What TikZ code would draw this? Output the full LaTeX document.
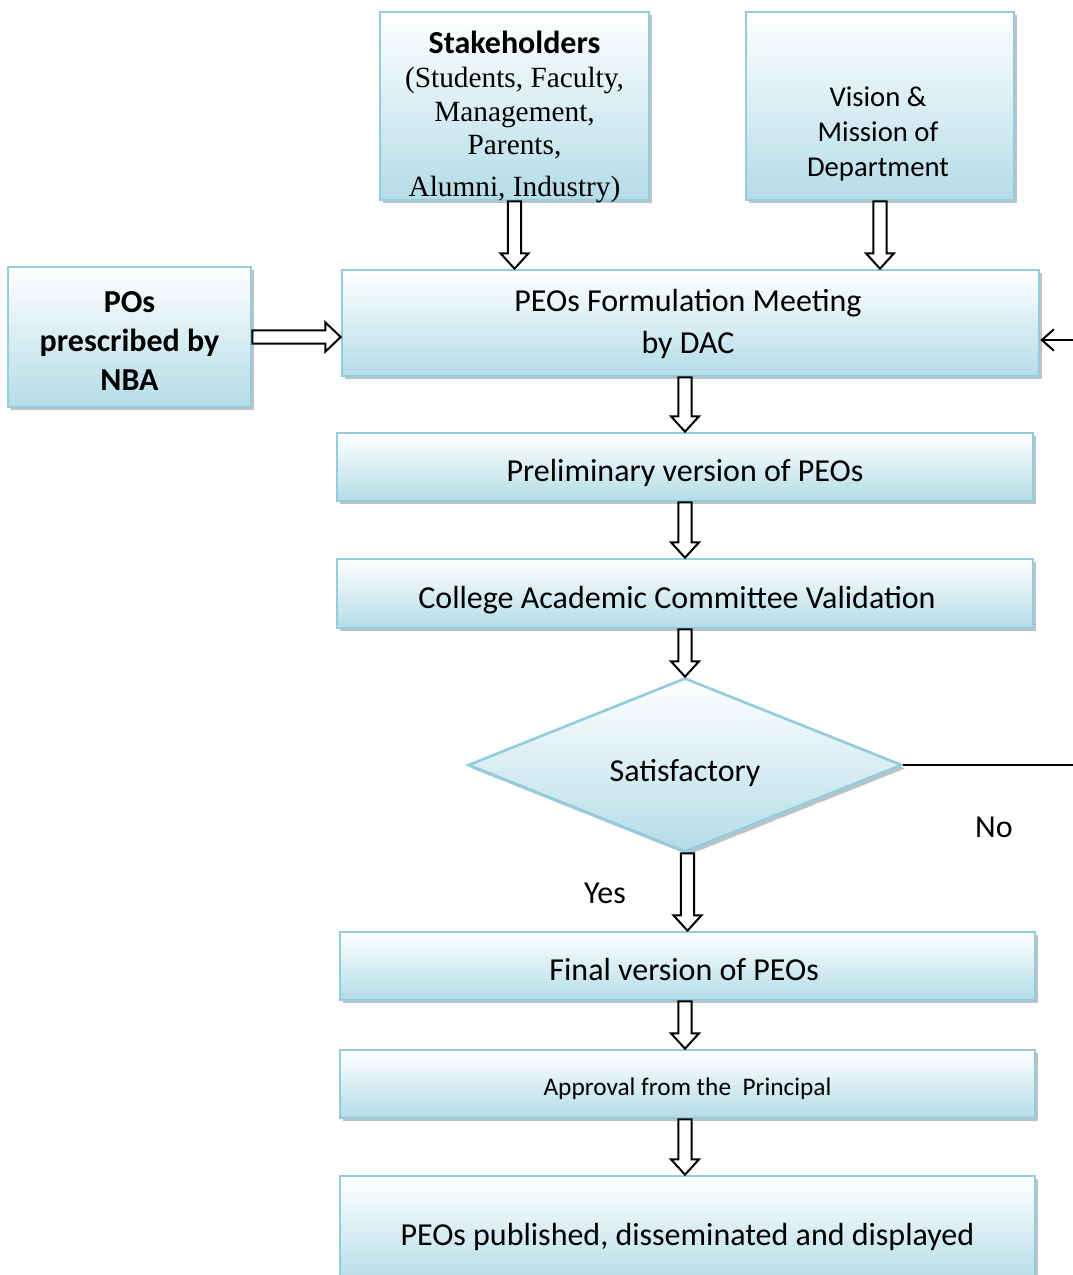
\documentclass[tikz,border=0pt]{standalone}
\usepackage{fontspec}
\setmainfont{Carlito}
\newfontfamily\serifface{Liberation Serif}
\newfontfamily\calib{Carlito}
\usetikzlibrary{shapes.geometric,shadows,calc,arrows.meta}
\definecolor{bb}{RGB}{147,205,221}
\definecolor{bl}{RGB}{180,220,231}
\definecolor{sh}{RGB}{188,194,198}
\tikzset{
  box/.style={draw=bb, line width=2pt, top color=white, bottom color=bl,
    drop shadow={shadow xshift=2.6pt, shadow yshift=-2.6pt, fill=sh, opacity=1},
    inner sep=0pt, align=center, font=\fontsize{24}{31}\selectfont},
  oneline/.style={text height=28pt, text depth=6pt},
  txt/.style={align=center, inner sep=0pt},
  hollow/.style={draw=black, line width=1.5pt, fill=white, line join=miter},
  conn/.style={draw=black, line width=1.5pt},
  lab/.style={inner sep=0pt, font=\fontsize{24}{29}\selectfont}
}
\newcommand\hollowdown[3]{%
  \path[hollow] let \p1=(#1), \p2=(#2), \p3=(#3) in
    (\x1-4.9pt,\y2) -- (\x1-4.9pt,\y3+11.5pt) -- (\x1-10.5pt,\y3+11.5pt) --
    (\x1,\y3) -- (\x1+10.5pt,\y3+11.5pt) -- (\x1+4.9pt,\y3+11.5pt) --
    (\x1+4.9pt,\y2) -- cycle;}
\newcommand\hollowright[2]{%
  \path[hollow] let \p1=(#1), \p2=(#2) in
    (\x1,\y1+4.9pt) -- (\x2-11.5pt,\y1+4.9pt) -- (\x2-11.5pt,\y1+11pt) --
    (\x2,\y1) -- (\x2-11.5pt,\y1-11pt) -- (\x2-11.5pt,\y1-4.9pt) --
    (\x1,\y1-4.9pt) -- cycle;}
\begin{document}
\begin{tikzpicture}[x=0.75pt,y=-0.75pt]
\useasboundingbox (0,0) rectangle (1073,1275);
\fill[white] (0,0) rectangle (1073,1275);

% boxes
\node[box, minimum width=201.75pt, minimum height=141pt] (S) at (514.5,106) {};
\node[txt, font=\serifface\fontsize{22}{25.3}\selectfont] (St) at (514.5,117)
  {{\calib\bfseries\fontsize{24}{25}\selectfont Stakeholders}\\(Students, Faculty,\\Management,\\Parents,\\[6pt]Alumni, Industry)};
\node[box, minimum width=201pt, minimum height=141pt] (V) at (880,106) {};
\node[txt, font=\fontsize{21.5}{26.5}\selectfont] (Vt) at (878,134) {Vision \&\\Mission of\\Department};
\node[box, minimum width=182.25pt, minimum height=105pt, font=\bfseries\fontsize{24}{29}\selectfont] (PO) at (129.5,337) {};
\node[txt, font=\bfseries\fontsize{24}{29}\selectfont] (POt) at (129.5,341) {POs\\prescribed by\\NBA};
\node[box, minimum width=522.75pt, minimum height=79.5pt] (F) at (690.5,323) {};
\node[txt, font=\fontsize{24}{31}\selectfont] (Ft) at (688,324) {PEOs Formulation Meeting\\by DAC};
\node[box, oneline, minimum width=522pt, minimum height=51pt] (P) at (685,467) {Preliminary version of PEOs};
\node[box, oneline, minimum width=522pt, minimum height=51.75pt] (C) at (685,593.5) {College Academic Committee Validation\hspace*{12pt}};
\node[box, diamond, aspect=2.5, minimum width=325.5pt, minimum height=130.5pt, text height=30pt, text depth=6pt] (D) at (685,765) {Satisfactory};
\node[box, oneline, minimum width=521.25pt, minimum height=51pt] (Fi) at (687.5,966) {Final version of PEOs\hspace*{5pt}};
\node[box, minimum width=521.25pt, minimum height=51pt, text height=22pt, text depth=4.5pt, font=\fontsize{19}{23}\selectfont] (A) at (687.5,1084) {Approval from the \ Principal};
\node[box, oneline, minimum width=521.25pt, minimum height=81.75pt] (Pu) at (687.5,1230.5) {PEOs published, disseminated and displayed};

% hollow arrows
\hollowdown{S.south}{S.south}{F.north}
\hollowdown{V.south}{V.south}{F.north}
\hollowright{PO.east}{F.west}
\hollowdown{P.north}{F.south}{P.north}
\hollowdown{C.north}{P.south}{C.north}
\hollowdown{D.north}{C.south}{D.north}
\hollowdown{Fi.north}{D.south}{Fi.north}
\hollowdown{D.north}{Fi.south}{A.north}
\hollowdown{D.north}{A.south}{Pu.north}

% No branch
\coordinate (nr) at (1085,765);
\coordinate (nu) at (1085,340);
\draw[conn] (D.east) -- (nr);
\draw[conn, -{Straight Barb[length=9pt,width=16pt]}] (nu) -- (nu -| F.east);

\node[lab] (no) at (994,827) {No};
\node[lab] (yes) at (605,893) {Yes};
\end{tikzpicture}
\end{document}
